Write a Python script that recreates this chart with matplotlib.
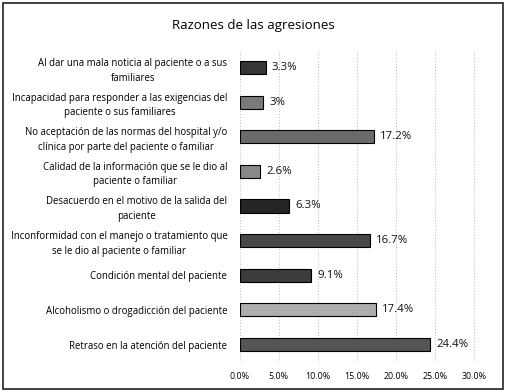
import matplotlib
matplotlib.use('Agg')
import matplotlib.pyplot as plt
from matplotlib.patches import Rectangle

categories = [
    'Al dar una mala noticia al paciente o a sus\nfamiliares',
    'Incapacidad para responder a las exigencias del\npaciente o sus familiares',
    'No aceptación de las normas del hospital y/o\nclínica por parte del paciente o familiar',
    'Calidad de la información que se le dio al\npaciente o familiar',
    'Desacuerdo en el motivo de la salida del\npaciente',
    'Inconformidad con el manejo o tratamiento que\nse le dio al paciente o familiar',
    'Condición mental del paciente',
    'Alcoholismo o drogadicción del paciente',
    'Retraso en la atención del paciente',
]
values = [3.3, 3.0, 17.2, 2.6, 6.3, 16.7, 9.1, 17.4, 24.4]
value_labels = ['3.3%', '3%', '17.2%', '2.6%', '6.3%', '16.7%', '9.1%', '17.4%', '24.4%']
colors = ['#353535', '#7a7a7a', '#6a6a6a', '#888888', '#252525',
          '#474747', '#3c3c3c', '#adadad', '#555555']
xticks = [0, 5, 10, 15, 20, 25, 30]

plt.rcParams['font.family'] = ['Open Sans', 'DejaVu Sans']

fig = plt.figure(figsize=(5.06, 3.92), dpi=100)
ax = fig.add_axes([0.474, 0.077, 0.467, 0.795])

ypos = list(range(len(categories)))
ax.barh(ypos, values, height=0.38, color=colors, edgecolor='black', linewidth=0.8, zorder=3)
for y, v, lab in zip(ypos, values, value_labels):
    ax.text(v + 0.8, y, lab, va='center', ha='left', fontsize=8.2, color='#111111')

ax.set_ylim(len(categories) - 0.5, -0.5)
ax.set_xlim(0, 30.3)
ax.set_yticks(ypos)
ax.set_yticklabels(categories, fontsize=6.9, linespacing=1.45, multialignment='center')
ax.set_xticks(xticks)
ax.set_xticklabels(['%.1f%%' % t for t in xticks], fontsize=6.4)
ax.tick_params(axis='y', length=0, pad=9)
ax.tick_params(axis='x', length=0, pad=7)
ax.grid(axis='x', color='#c4c4c4', linestyle=':', linewidth=0.8, zorder=0)
for s in ax.spines.values():
    s.set_visible(False)

fig.text(0.5, 0.935, 'Razones de las agresiones', ha='center', va='center', fontsize=9.5)
fig.patches.append(Rectangle((0.006, 0.008), 0.988, 0.984, transform=fig.transFigure,
                             fill=False, edgecolor='#222222', linewidth=1.2))

fig.savefig('out.png', dpi=100)
